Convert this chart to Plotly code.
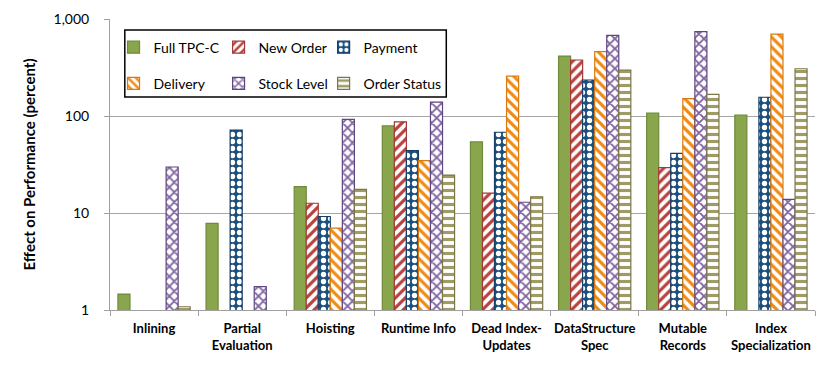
import plotly.graph_objects as go

# categories and values (percent, log scale); None = no bar
categories = ["Inlining", "Partial<br>Evaluation", "Hoisting", "Runtime Info",
              "Dead Index-<br>Updates", "DataStructure<br>Spec", "Mutable<br>Records",
              "Index<br>Specialization"]

full_tpcc    = [1.46, 7.8, 18.7, 79, 54, 415, 107, 102]
new_order    = [None, None, 12.6, 87, 16.0, 378, 29.3, None]
payment      = [None, 71.7, 9.2, 44, 68, 235, 41.2, 156]
delivery     = [None, None, 7.0, 34.7, 258, 460, 151, 700]
stock_level  = [29.8, 1.74, 92.5, 139, 12.9, 679, 740, 13.8]
order_status = [1.08, None, 17.5, 24.6, 14.7, 298, 167, 307]

series = [
    # name, values, fill colour, line colour, pattern, pattern fg, pattern bg, legend column
    ("Full TPC-C", full_tpcc, "#8AA64C", "#6E8A3A", "", None, None, "legend"),
    ("New Order", new_order, "#B8403C", "#A23A36", "/", "#B8403C", "white", "legend2"),
    ("Payment", payment, "#1B4F7E", "#173F66", ".", "white", "#1B4F7E", "legend3"),
    ("Delivery", delivery, "#F08A12", "#D97A10", "\\", "#F08A12", "white", "legend"),
    ("Stock Level", stock_level, "#7E62A0", "#5E4680", "x", "#7E62A0", "white", "legend2"),
    ("Order Status", order_status, "#A09A64", "#7C7548", "-", "#A09A64", "white", "legend3"),
]

fig = go.Figure()
for name, vals, col, lcol, shape, fg, bg, lg in series:
    if shape == "":
        marker = dict(color=col, line=dict(color=lcol, width=1.2))
    else:
        marker = dict(color=bg, line=dict(color=lcol, width=1.2),
                      pattern=dict(shape=shape, fgcolor=fg, bgcolor=bg,
                                   size=7, solidity=0.45, fillmode="replace"))
    fig.add_trace(go.Bar(x=categories, y=vals, name=name, marker=marker,
                         legend=lg, legendgroup=name))

# one vertical legend per column of the boxed legend
leg = dict(orientation="v", yanchor="middle", y=0.84, xanchor="left",
           bgcolor="rgba(0,0,0,0)", font=dict(size=14), itemclick=False,
           traceorder="grouped", tracegroupgap=15)

# the page body adds an 8px margin, so the figure is 8px smaller with margins shifted
fig.update_layout(
    width=822, height=357,
    margin=dict(l=102, r=15, t=11, b=55),
    paper_bgcolor="white", plot_bgcolor="white",
    barmode="group", bargap=0.18, bargroupgap=0.0,
    font=dict(family="Lato, Open Sans, sans-serif", color="#000"),
    legend=dict(leg, x=0.005),
    legend2=dict(leg, x=0.154),
    legend3=dict(leg, x=0.303),
    shapes=[dict(type="rect", xref="paper", yref="paper",
                 x0=0.021, x1=0.477, y0=0.732, y1=0.962,
                 line=dict(color="black", width=1.5), fillcolor="rgba(0,0,0,0)")],
)

fig.update_yaxes(
    type="log", range=[0, 3], automargin=False,
    tickvals=[1, 10, 100, 1000], tickformat=",",
    tickfont=dict(size=14), ticks="outside", ticklen=5, tickcolor="#A0A0A0",
    ticklabelstandoff=12,
    showgrid=True, gridcolor="#A6A6A6", gridwidth=1,
    showline=True, linecolor="#A0A0A0", linewidth=1, zeroline=False,
    title=dict(text="<b>Effect on Performance (percent)</b>", font=dict(size=15), standoff=14),
)
fig.update_xaxes(
    automargin=False, tickangle=0,
    tickfont=dict(size=13, weight="bold"), tickson="boundaries",
    ticks="outside", ticklen=5, tickcolor="#A0A0A0", ticklabelstandoff=6,
    showline=True, linecolor="#A0A0A0", linewidth=1, showgrid=False,
)

fig.write_html("out.html")
